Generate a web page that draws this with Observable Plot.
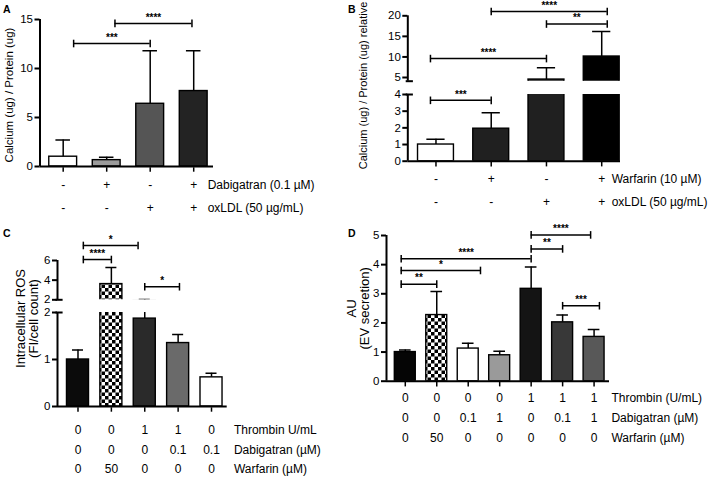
<!DOCTYPE html>
<html><head><meta charset="utf-8">
<script src="https://cdn.jsdelivr.net/npm/d3@7"></script>
<script src="https://cdn.jsdelivr.net/npm/@observablehq/plot@0.6"></script>
<style>
body{margin:0;background:#fff;}
#fig{position:relative;width:709px;height:478px;overflow:hidden;background:#fff;font-family:"Liberation Sans",Arial,Helvetica,sans-serif;color:#000;}
#fig > div.p{position:absolute;}
.lab{position:absolute;font-weight:bold;font-size:10.5px;line-height:1;}
</style></head><body>
<svg width="0" height="0" style="position:absolute"><defs>
<pattern id="checker" width="7" height="7" patternUnits="userSpaceOnUse">
<rect width="7" height="7" fill="#fff"/><rect width="3.5" height="3.5" fill="#000"/><rect x="3.5" y="3.5" width="3.5" height="3.5" fill="#000"/>
</pattern></defs></svg>
<div id="fig">
<span class="lab" style="left:3px;top:4px">A</span>
<span class="lab" style="left:348px;top:4px">B</span>
<span class="lab" style="left:3px;top:228px">C</span>
<span class="lab" style="left:348px;top:228px">D</span>
</div>
<script>
// ---------- DATA ----------
// Panel A
const A_values = [1.0, 0.65, 6.4, 7.7];
const A_errors = [2.7, 0.95, 11.8, 11.8];
const A_dabigatran = ["-", "+", "-", "+"];
const A_oxldl = ["-", "-", "+", "+"];
const A_rowNames = ["Dabigatran (0.1 µM)", "oxLDL (50 µg/mL)"];
const A_yTicks = [0, 5, 10, 15];
const A_sig = [
  {from: 1.24, to: 3.0, y: 12.55, label: "***"},
  {from: 2.19, to: 3.96, y: 14.6, label: "****"}
];
// Panel B
const B_values = [1.0, 1.95, 4.5, 10.1];
const B_errors = [1.32, 2.9, 7.4, 16.2];
const B_warfarin = ["-", "+", "-", "+"];
const B_oxldl = ["-", "-", "+", "+"];
const B_rowNames = ["Warfarin (10 µM)", "oxLDL (50 µg/mL)"];
const B_yTicksLow = [0, 1, 2, 3, 4];
const B_yTicksHigh = [5, 10, 15, 20];
const B_sigLow = [{from: 0.9, to: 2.0, y: 3.65, label: "***"}];
const B_sigHigh = [
  {from: 0.9, to: 3.0, y: 9.6, label: "****"},
  {from: 3.0, to: 4.1, y: 18.0, label: "**"},
  {from: 2.0, to: 4.1, y: 21.05, label: "****"}
];
// Panel C
const C_values = [1.0, 3.6, 1.87, 1.35, 0.62];
const C_errors = [1.2, 5.3, 2.03, 1.53, 0.71];
const C_thrombin = ["0", "0", "1", "1", "0"];
const C_dabigatran = ["0", "0", "0", "0.1", "0.1"];
const C_warfarin = ["0", "50", "0", "0", "0"];
const C_rowNames = ["Thrombin U/mL", "Dabigatran (µM)", "Warfarin (µM)"];
const C_yTicksLow = [0, 1, 2];
const C_yTicksHigh = [2, 4, 6];
const C_sigLow = [];
const C_sigHigh = [
  {from: 1.16, to: 2.8, y: 7.53, label: "*"},
  {from: 1.16, to: 2.0, y: 6.1, label: "****"},
  {from: 3.0, to: 4.04, y: 3.33, label: "*"}
];
// Panel D
const D_values = [1.0, 2.27, 1.12, 0.89, 3.17, 2.02, 1.52];
const D_errors = [1.07, 3.08, 1.3, 1.03, 3.92, 2.27, 1.77];
const D_thrombin = ["0", "0", "0", "0", "1", "1", "1"];
const D_dabigatran = ["0", "0", "0.1", "1", "0", "0.1", "1"];
const D_warfarin = ["0", "50", "0", "0", "0", "0", "0"];
const D_rowNames = ["Thrombin (U/mL)", "Dabigatran (µM)", "Warfarin (µM)"];
const D_yTicks = [0, 1, 2, 3, 4, 5];
const D_sig = [
  {from: 0.87, to: 2.0, y: 3.33, label: "**"},
  {from: 0.87, to: 3.39, y: 3.8, label: "*"},
  {from: 0.87, to: 5.0, y: 4.2, label: "****"},
  {from: 5.0, to: 6.0, y: 4.54, label: "**"},
  {from: 5.0, to: 6.89, y: 5.02, label: "****"},
  {from: 6.0, to: 7.17, y: 2.59, label: "***"}
];

// ---------- STYLES ----------
const A_fills = ["#ffffff", "#9b9b9b", "#555555", "#232323"];
const B_fills = ["#ffffff", "#202020", "#202020", "#000000"];
const C_fills = ["#0b0b0b", "url(#checker)", "#2a2a2a", "#6a6a6a", "#ffffff"];
const D_fills = ["#050505", "url(#checker)", "#ffffff", "#9a9a9a", "#141414", "#383838", "#585858"];
const FONT = '"Liberation Sans", Arial, Helvetica, sans-serif';

const vbar = {draw(ctx, size) { const r = Math.sqrt(size / Math.PI); ctx.moveTo(0, -r); ctx.lineTo(0, r); }};
const hbar = {draw(ctx, size) { const r = Math.sqrt(size / Math.PI); ctx.moveTo(-r, 0); ctx.lineTo(r, 0); }};

const fig = document.getElementById("fig");

function panel(c) {
  const bars = c.values.map((v, k) => ({i: k + 1, v, e: c.errors[k], fill: c.fills[k]}));
  const x0 = c.xDomain[0], y0 = c.yDomain[0];
  const isBase = y0 === 0;
  const marks = [];
  marks.push(Plot.rect(bars, {x1: d => d.i - c.halfW, x2: d => d.i + c.halfW, y1: d => 0, y2: "v",
    fill: "fill", stroke: "#000", strokeWidth: 1.4, clip: true}));
  marks.push(Plot.ruleX(bars, {x: "i", y1: "v", y2: "e", stroke: "#000", strokeWidth: 1.5, clip: true}));
  marks.push(Plot.ruleY(bars, {y: "e", x1: d => d.i - c.capW, x2: d => d.i + c.capW, stroke: "#000", strokeWidth: 1.5, clip: true}));
  marks.push(Plot.ruleX([x0], {stroke: "#000", strokeWidth: 2}));
  if (isBase) {
    marks.push(Plot.ruleY([0], {stroke: "#000", strokeWidth: 2}));
    marks.push(Plot.dot(bars, {x: "i", y: d => 0, symbol: vbar, r: 2.2, dy: 3, fill: "none", stroke: "#000", strokeWidth: 1.5}));
  }
  marks.push(Plot.axisY({ticks: c.yTicks, tickSize: 5, tickPadding: 2, fontSize: 11.5, strokeWidth: 2, label: null, tickFormat: d => String(d)}));
  if (c.breakAt != null) {
    marks.push(Plot.dot([c.breakAt], {x: d => x0, y: d => d, symbol: hbar, r: 3.6, dx: 1.5, fill: "none", stroke: "#000", strokeWidth: 2}));
  }
  if (c.sig && c.sig.length) {
    const ends = c.sig.flatMap(b => [{x: b.from, y: b.y}, {x: b.to, y: b.y}]);
    marks.push(Plot.ruleY(c.sig, {x1: "from", x2: "to", y: "y", stroke: "#000", strokeWidth: 1.5}));
    marks.push(Plot.dot(ends, {x: "x", y: "y", symbol: vbar, r: 3.8, fill: "none", stroke: "#000", strokeWidth: 1.5}));
    marks.push(Plot.text(c.sig, {x: d => (d.from + d.to) / 2, y: "y", text: "label", dy: -6, fontSize: 10, fontWeight: "bold"}));
  }
  if (c.rows) {
    marks.push(Plot.text(bars, {x: "i", text: d => c.rows.map(r => r[d.i - 1]).join("\n"),
      frameAnchor: "bottom", lineAnchor: "top", textAnchor: "middle", dy: c.rowDy, lineHeight: c.lineHeight, fontSize: 12}));
    marks.push(Plot.text([c.rowNames.join("\n")], {x: d => c.rowX, text: d => d,
      frameAnchor: "bottom", lineAnchor: "top", textAnchor: "start", dy: c.rowDy, lineHeight: c.lineHeight, fontSize: 12}));
  }
  if (c.yLabel) {
    marks.push(Plot.text([c.yLabel], {text: d => d, frameAnchor: "left", textAnchor: "middle", lineAnchor: "middle",
      rotate: -90, dx: c.labDx, dy: c.labDy, fontSize: c.labSize, lineHeight: c.labLH || 1}));
  }
  const svg = Plot.plot({
    width: c.width, height: c.height,
    marginLeft: c.marginLeft, marginRight: c.marginRight, marginTop: c.marginTop, marginBottom: c.marginBottom,
    x: {domain: c.xDomain, axis: null},
    y: {domain: c.yDomain},
    color: {type: "identity"},
    style: {background: "transparent", overflow: "visible", fontFamily: FONT, color: "#000"},
    marks
  });
  const div = document.createElement("div");
  div.className = "p";
  div.style.left = c.left + "px";
  div.style.top = c.top + "px";
  div.appendChild(svg);
  fig.appendChild(div);
}

// Panel A
panel({left: 0, top: 0, width: 345, height: 230, marginLeft: 39.5, marginRight: 132, marginTop: 19, marginBottom: 64,
  xDomain: [0.467, 4.455], yDomain: [0, 15], yTicks: A_yTicks,
  values: A_values, errors: A_errors, fills: A_fills, halfW: 0.32, capW: 0.167, sig: A_sig,
  rows: [A_dabigatran, A_oxldl], rowNames: A_rowNames, rowX: 4.32, rowDy: 6, lineHeight: 1.92,
  yLabel: "Calcium (ug) / Protein (ug)", labDx: -30.5, labDy: 2, labSize: 11.5});

// Panel B upper
panel({left: 340, top: 0, width: 369, height: 81, marginLeft: 67.3, marginRight: 89, marginTop: 15.3, marginBottom: 0.3,
  xDomain: [0.49, 4.34], yDomain: [4.1, 20], yTicks: B_yTicksHigh, breakAt: 4.1,
  values: B_values, errors: B_errors, fills: B_fills, halfW: 0.325, capW: 0.165, sig: B_sigHigh,
  yLabel: "Calcium (ug) / Protein (ug) relative", labDx: -44, labDy: 37, labSize: 11});
// Panel B lower
panel({left: 340, top: 86, width: 369, height: 130, marginLeft: 67.3, marginRight: 89, marginTop: 8, marginBottom: 55.3,
  xDomain: [0.49, 4.34], yDomain: [0, 4], yTicks: B_yTicksLow, breakAt: 4,
  values: B_values, errors: B_errors, fills: B_fills, halfW: 0.325, capW: 0.165, sig: B_sigLow,
  rows: [B_warfarin, B_oxldl], rowNames: B_rowNames, rowX: 4.18, rowDy: 6, lineHeight: 1.88});

// Panel C upper
panel({left: 0, top: 225, width: 345, height: 75, marginLeft: 57, marginRight: 118.3, marginTop: 35, marginBottom: 0.7,
  xDomain: [0.386, 5.47], yDomain: [2, 6], yTicks: C_yTicksHigh, breakAt: 2,
  values: C_values, errors: C_errors, fills: C_fills, halfW: 0.33, capW: 0.165, sig: C_sigHigh});
// Panel C lower
panel({left: 0, top: 305, width: 345, height: 175, marginLeft: 57, marginRight: 118.3, marginTop: 7, marginBottom: 74,
  xDomain: [0.386, 5.47], yDomain: [0, 2], yTicks: C_yTicksLow, breakAt: 2,
  values: C_values, errors: C_errors, fills: C_fills, halfW: 0.33, capW: 0.165, sig: C_sigLow,
  rows: [C_thrombin, C_dabigatran, C_warfarin], rowNames: C_rowNames, rowX: 5.67, rowDy: 13.5, lineHeight: 1.64,
  yLabel: "Intracellular ROS\n(FI/cell count)", labDx: -30.5, labDy: -41, labSize: 13, labLH: 1.0});

// Panel D
panel({left: 340, top: 220, width: 369, height: 258, marginLeft: 46, marginRight: 100, marginTop: 15, marginBottom: 97.3,
  xDomain: [0.403, 7.49], yDomain: [0, 5], yTicks: D_yTicks,
  values: D_values, errors: D_errors, fills: D_fills, halfW: 0.333, capW: 0.185, sig: D_sig,
  rows: [D_thrombin, D_dabigatran, D_warfarin], rowNames: D_rowNames, rowX: 7.55, rowDy: 6, lineHeight: 1.68,
  yLabel: "AU\n(EV secretion)", labDx: -28, labDy: 0, labSize: 13, labLH: 0.95});
</script>
</body></html>
